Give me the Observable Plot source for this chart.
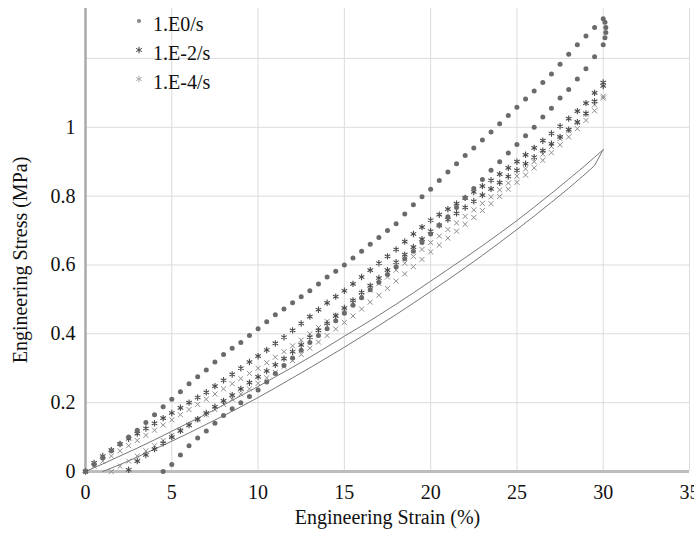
<!DOCTYPE html>
<html><head><meta charset="utf-8">
<script src="https://cdn.jsdelivr.net/npm/d3@7"></script>
<script src="https://cdn.jsdelivr.net/npm/@observablehq/plot@0.6"></script>
<style>
html,body{margin:0;padding:0;background:#fff;}
#wrap{position:relative;width:694px;height:534px;font-family:"Liberation Serif","Tinos","DejaVu Serif",serif;}
#wrap svg text{font-family:"Liberation Serif","Tinos","DejaVu Serif",serif;}
#legend{position:absolute;left:133px;top:10px;font-size:20px;line-height:29px;color:#111;font-family:"Liberation Serif","Tinos","DejaVu Serif",serif;}
#legend .row{display:flex;align-items:center;height:29px;}
#legend svg{width:12px;height:12px;margin-right:8px;position:relative;top:-4px;overflow:visible;}
</style></head><body><div id="wrap"><div id="legend"></div></div>
<script>
// Strain grid (%) shared by the marker series
const strain = [0,0.5,1,1.5,2,2.5,3,3.5,4,4.5,5,5.5,6,6.5,7,7.5,8,8.5,9,9.5,10,10.5,11,11.5,12,12.5,13,13.5,14,14.5,15,15.5,16,16.5,17,17.5,18,18.5,19,19.5,20,20.5,21,21.5,22,22.5,23,23.5,24,24.5,25,25.5,26,26.5,27,27.5,28,28.5,29,29.5,30];

// 1.E0/s (dots): loading and unloading branches (MPa)
const aLoad = [0,0.02,0.04,0.06,0.08,0.1,0.12,0.142,0.165,0.188,0.21,0.232,0.255,0.275,0.295,0.318,0.34,0.358,0.375,0.395,0.415,0.435,0.455,0.472,0.49,0.508,0.525,0.545,0.565,0.582,0.6,0.62,0.64,0.66,0.68,0.7,0.72,0.748,0.775,0.798,0.82,0.845,0.87,0.894,0.918,0.94,0.963,0.986,1.01,1.034,1.058,1.082,1.105,1.13,1.155,1.183,1.212,1.24,1.265,1.29,1.315];
const aUnload = [null,null,null,null,null,null,null,null,null,0,0.02,0.048,0.075,0.097,0.118,0.14,0.163,0.182,0.2,0.218,0.237,0.26,0.285,0.308,0.33,0.352,0.375,0.395,0.415,0.438,0.46,0.483,0.505,0.528,0.55,0.572,0.595,0.618,0.64,0.665,0.69,0.715,0.74,0.767,0.795,0.822,0.848,0.875,0.9,0.925,0.95,0.975,1.0,1.03,1.055,1.085,1.11,1.14,1.17,1.205,1.24];
const aPeakStrain = [30.1,30.15,30.15,30.1];
const aPeakStress = [1.305,1.29,1.275,1.26];

// 1.E-2/s (asterisks)
const bLoad = [0,0.025,0.045,0.062,0.08,0.095,0.11,0.125,0.14,0.155,0.17,0.185,0.2,0.215,0.23,0.248,0.265,0.282,0.3,0.318,0.335,0.353,0.372,0.39,0.41,0.43,0.45,0.47,0.49,0.508,0.525,0.545,0.565,0.585,0.605,0.625,0.645,0.668,0.69,0.71,0.73,0.746,0.762,0.778,0.795,0.812,0.829,0.846,0.864,0.882,0.9,0.92,0.94,0.961,0.982,1.003,1.025,1.047,1.07,1.1,1.13];
const bUnload = [null,null,null,null,null,0.005,0.03,0.048,0.065,0.082,0.1,0.118,0.135,0.152,0.17,0.188,0.205,0.222,0.24,0.258,0.275,0.292,0.31,0.328,0.348,0.368,0.39,0.41,0.43,0.452,0.475,0.497,0.52,0.54,0.562,0.585,0.608,0.63,0.652,0.675,0.698,0.715,0.732,0.75,0.767,0.785,0.803,0.821,0.839,0.857,0.875,0.894,0.913,0.932,0.952,0.972,0.993,1.015,1.04,1.075,1.12];

// 1.E-4/s (crosses)
const cLoad = [0,0.015,0.03,0.045,0.06,0.075,0.09,0.105,0.12,0.135,0.15,0.165,0.18,0.195,0.21,0.225,0.24,0.255,0.27,0.285,0.3,0.316,0.332,0.348,0.365,0.382,0.4,0.418,0.436,0.454,0.472,0.49,0.508,0.527,0.546,0.565,0.585,0.605,0.625,0.645,0.665,0.684,0.703,0.722,0.741,0.76,0.779,0.798,0.818,0.838,0.858,0.879,0.9,0.922,0.944,0.967,0.99,1.014,1.039,1.065,1.09];
const cUnload = [null,null,null,0,0.015,0.03,0.045,0.06,0.075,0.09,0.105,0.12,0.135,0.15,0.165,0.18,0.195,0.21,0.225,0.24,0.256,0.272,0.288,0.305,0.322,0.34,0.358,0.376,0.395,0.414,0.433,0.452,0.472,0.492,0.512,0.532,0.553,0.574,0.595,0.616,0.638,0.658,0.678,0.698,0.718,0.738,0.758,0.778,0.799,0.82,0.84,0.861,0.882,0.904,0.926,0.949,0.972,0.996,1.02,1.048,1.085];

// Solid reference loop
const solidStrain = [0,1,2,3,4,5,6,7,8,9,10,11,12,13,14,15,16,17,18,19,20,21,22,23,24,25,26,27,28,29,29.5,30];
const solidLoad = [0,0.022,0.045,0.068,0.092,0.117,0.142,0.167,0.193,0.22,0.247,0.275,0.303,0.332,0.362,0.393,0.423,0.454,0.486,0.519,0.553,0.587,0.621,0.656,0.692,0.729,0.768,0.808,0.849,0.891,0.913,0.935];
const solidUnload = [null,0,0.02,0.042,0.065,0.088,0.112,0.137,0.162,0.188,0.215,0.243,0.272,0.301,0.331,0.361,0.392,0.424,0.456,0.489,0.523,0.557,0.592,0.628,0.665,0.703,0.742,0.782,0.823,0.866,0.889,0.935];

const xTicks = [0,5,10,15,20,25,30,35];
const yTicks = [0,0.2,0.4,0.6,0.8,1];
const yGrid = [0.2,0.4,0.6,0.8,1,1.2];
const xGrid = [5,10,15,20,25,30,35];
const seriesNames = ["1.E0/s","1.E-2/s","1.E-4/s"];
const xLabel = "Engineering Strain (%)";
const yLabel = "Engineering Stress (MPa)";

const FONT = '"Liberation Serif","Tinos","DejaVu Serif",serif';
const rows = (xs, ys) => xs.map((x, i) => ({strain: x, stress: ys[i]})).filter(d => d.stress != null);
const A = [...rows(strain, aLoad), ...rows(strain, aUnload), ...rows(aPeakStrain, aPeakStress)];
const B = [...rows(strain, bLoad), ...rows(strain, bUnload)];
const C = [...rows(strain, cLoad), ...rows(strain, cUnload)];
const SL = rows(solidStrain, solidLoad);
const SU = rows(solidStrain, solidUnload);

const chart = Plot.plot({
  width: 694, height: 534,
  marginTop: 8, marginBottom: 63, marginLeft: 85, marginRight: 5,
  style: {fontFamily: FONT, fontSize: "20px", color: "#111", background: "#fff"},
  x: {domain: [0, 35], label: null},
  y: {domain: [0, 1.345], label: null},
  marks: [
    Plot.gridX(xGrid, {stroke: "#dcdcdc", strokeOpacity: 1}),
    Plot.gridY(yGrid, {stroke: "#dcdcdc", strokeOpacity: 1}),
    Plot.ruleY([0], {stroke: "#bdbdbd", strokeWidth: 3}),
    Plot.ruleX([0], {stroke: "#a9a9a9", strokeWidth: 2.5}),
    Plot.axisX(xTicks, {tickSize: 0, tickPadding: 13, label: null, fontFamily: FONT, fontSize: 20, tickFormat: d => String(d)}),
    Plot.axisY(yTicks, {tickSize: 0, tickPadding: 10, label: null, fontFamily: FONT, fontSize: 20, tickFormat: d => String(+d.toFixed(1))}),
    Plot.line(SL, {x: "strain", y: "stress", stroke: "#777", strokeWidth: 1}),
    Plot.line(SU, {x: "strain", y: "stress", stroke: "#777", strokeWidth: 1}),
    Plot.dot(C, {x: "strain", y: "stress", symbol: "times", r: 2.4, stroke: "#8c8c8c", strokeWidth: 1}),
    Plot.dot(B, {x: "strain", y: "stress", symbol: "asterisk", r: 3, stroke: "#4a4a4a", strokeWidth: 1.1}),
    Plot.dot(A, {x: "strain", y: "stress", r: 2.5, fill: "#6a6a6a", stroke: "none"}),
    Plot.text([xLabel], {frameAnchor: "bottom", dy: 52, fontSize: 20, fontFamily: FONT, fill: "#111"}),
    Plot.text([yLabel], {frameAnchor: "left", textAnchor: "middle", rotate: -90, dx: -65, dy: 20, fontSize: 20, fontFamily: FONT, fill: "#111"})
  ]
});
document.getElementById("wrap").prepend(chart);

// Legend
const legendStyles = [
  {type: d3.symbolCircle, fill: "#888", stroke: "none", size: 14},
  {type: d3.symbolAsterisk, fill: "none", stroke: "#444", size: 30},
  {type: d3.symbolAsterisk, fill: "none", stroke: "#aaa", size: 30}
];
const legend = d3.select("#legend");
seriesNames.forEach((name, i) => {
  const row = legend.append("div").attr("class", "row");
  const svg = row.append("svg").attr("viewBox", "-6 -6 12 12");
  const s = legendStyles[i];
  svg.append("path").attr("d", d3.symbol(s.type, s.size)()).attr("fill", s.fill).attr("stroke", s.stroke).attr("stroke-width", 1);
  row.append("span").text(name);
});
</script>
</body></html>
